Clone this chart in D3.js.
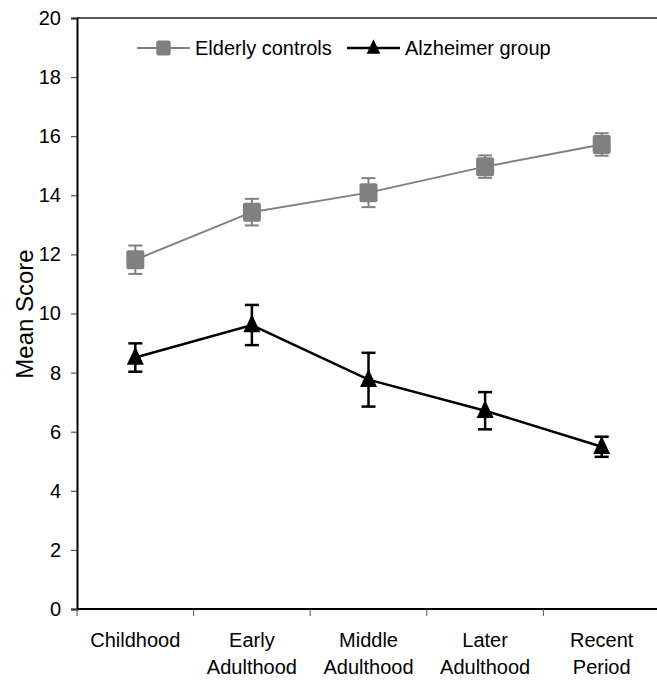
<!DOCTYPE html>
<html>
<head>
<meta charset="utf-8">
<script src="https://cdn.jsdelivr.net/npm/d3@7"></script>
<style>
  body { margin: 0; background: #fff; }
  text { font-family: "Liberation Sans", Arial, sans-serif; }
</style>
</head>
<body>
<script>
// data
var categories = [["Childhood"], ["Early", "Adulthood"], ["Middle", "Adulthood"], ["Later", "Adulthood"], ["Recent", "Period"]];
var elderlyMean = [11.82, 13.43, 14.09, 14.97, 15.72];
var elderlyErr  = [0.48, 0.45, 0.49, 0.38, 0.38];
var alzMean = [8.51, 9.61, 7.76, 6.71, 5.49];
var alzErr  = [0.48, 0.68, 0.91, 0.63, 0.34];
var yTicks = [0, 2, 4, 6, 8, 10, 12, 14, 16, 18, 20];
var seriesNames = ["Elderly controls", "Alzheimer group"];

var svgWidth = 657;
var svgHeight = 681;
var margin = { top: 18, right: -3, bottom: 72, left: 77 };
var width = svgWidth - margin.left - margin.right;
var height = svgHeight - margin.top - margin.bottom;

var svg = d3.select("body").append("svg")
  .attr("width", svgWidth)
  .attr("height", svgHeight);

var chartGroup = svg.append("g")
  .attr("transform", `translate(${margin.left}, ${margin.top})`);

var keys = categories.map(function(c, i) { return i; });

var xScale = d3.scaleBand()
  .domain(keys)
  .range([0, width]);

var yScale = d3.scaleLinear()
  .domain([0, 20])
  .range([height, 0]);

var gray = "#808080";

// top border of plot area
chartGroup.append("line")
  .attr("x1", 0).attr("x2", width)
  .attr("y1", yScale(20)).attr("y2", yScale(20))
  .attr("stroke", "#222").attr("stroke-width", 1.5);

// y axis
var leftAxis = d3.axisLeft(yScale).tickValues(yTicks).tickSize(6).tickPadding(10);
var yAxisG = chartGroup.append("g").call(leftAxis);
yAxisG.select(".domain").attr("stroke-width", 2).attr("stroke", "#000");
yAxisG.selectAll(".tick line").attr("stroke", "#333");
yAxisG.selectAll(".tick text").style("font-size", "20px").attr("fill", "#000");

// x axis line and boundary ticks
chartGroup.append("line")
  .attr("x1", 0).attr("x2", width)
  .attr("y1", height).attr("y2", height)
  .attr("stroke", "#000").attr("stroke-width", 2);

var boundaries = keys.concat([keys.length]);
chartGroup.selectAll(".xtick")
  .data(boundaries)
  .enter().append("line")
  .attr("class", "xtick")
  .attr("x1", d => d * xScale.step())
  .attr("x2", d => d * xScale.step())
  .attr("y1", height).attr("y2", height + 7)
  .attr("stroke", "#555").attr("stroke-width", 1);

// category labels
var catLabels = chartGroup.selectAll(".cat")
  .data(categories)
  .enter().append("text")
  .attr("class", "cat")
  .attr("text-anchor", "middle")
  .attr("transform", (d, i) => `translate(${xScale(i) + xScale.bandwidth() / 2}, ${height + 37.5})`)
  .style("font-size", "20px");

catLabels.selectAll("tspan")
  .data(d => d)
  .enter().append("tspan")
  .attr("x", 0)
  .attr("y", (d, i) => i * 27)
  .text(d => d);

// y label
svg.append("text")
  .attr("transform", "translate(33, 314) rotate(-90)")
  .attr("text-anchor", "middle")
  .style("font-size", "24px")
  .text("Mean Score");

var cx = i => xScale(i) + xScale.bandwidth() / 2;

function drawSeries(means, errs, color, lineW, marker) {
  var line = d3.line()
    .x((d, i) => cx(i))
    .y(d => yScale(d));

  chartGroup.append("path")
    .datum(means)
    .attr("fill", "none")
    .attr("stroke", color)
    .attr("stroke-width", lineW)
    .attr("d", line);

  // error bars
  var eb = chartGroup.append("g");
  means.forEach(function(m, i) {
    var x = cx(i);
    var top = yScale(m + errs[i]);
    var bot = yScale(m - errs[i]);
    eb.append("line").attr("x1", x).attr("x2", x).attr("y1", top).attr("y2", bot)
      .attr("stroke", color).attr("stroke-width", lineW);
    [top, bot].forEach(function(y) {
      eb.append("line").attr("x1", x - 7).attr("x2", x + 7).attr("y1", y).attr("y2", y)
        .attr("stroke", color).attr("stroke-width", lineW);
    });
  });

  means.forEach(function(m, i) {
    marker(chartGroup, cx(i), yScale(m), 1);
  });
}

function squareMarker(g, x, y, s) {
  var w = 18 * s, h = 19 * s;
  g.append("rect")
    .attr("x", x - w / 2).attr("y", y - h / 2)
    .attr("width", w).attr("height", h)
    .attr("rx", 2).attr("fill", gray);
}

function triangleMarker(g, x, y, s) {
  var w = 17 * s, h = 18 * s;
  g.append("path")
    .attr("d", `M${x},${y - h * 0.6}L${x + w / 2},${y + h * 0.4}L${x - w / 2},${y + h * 0.4}Z`)
    .attr("fill", "#000");
}

drawSeries(elderlyMean, elderlyErr, gray, 2, squareMarker);
drawSeries(alzMean, alzErr, "#000", 2.5, triangleMarker);

// legend
var legend = svg.append("g");
var legendItems = [
  { name: seriesNames[0], x: 137, color: gray, w: 2, marker: squareMarker },
  { name: seriesNames[1], x: 347, color: "#000", w: 2.5, marker: triangleMarker }
];
legendItems.forEach(function(it) {
  legend.append("line")
    .attr("x1", it.x).attr("x2", it.x + 53)
    .attr("y1", 48).attr("y2", 48)
    .attr("stroke", it.color).attr("stroke-width", it.w);
  it.marker(legend, it.x + 26.5, 48, 0.8);
  legend.append("text")
    .attr("x", it.x + 58).attr("y", 55)
    .style("font-size", "20px")
    .text(it.name);
});
</script>
</body>
</html>
